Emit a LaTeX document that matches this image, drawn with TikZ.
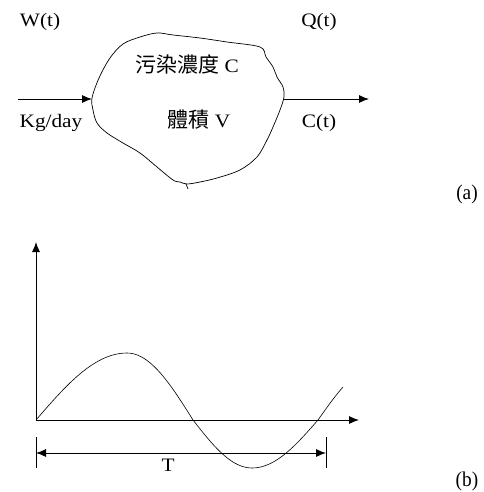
\documentclass[tikz,border=0pt]{standalone}
\usepackage{fontspec}
\setmainfont{Liberation Serif}
\newfontfamily\latfont[FakeStretch=1.12]{Liberation Serif}
\newfontfamily\cjkfont{Noto Sans CJK TC}
\newfontfamily\tagfont[FakeStretch=0.92]{Liberation Serif}
\usetikzlibrary{arrows.meta}
\tikzset{
  lab/.style={font=\latfont\fontsize{19}{21}\selectfont, inner sep=0pt},
  taglab/.style={font=\tagfont\fontsize{21}{23}\selectfont, inner sep=0pt},
  arr/.style={line width=0.9pt, -{Latex[length=10pt,width=8pt]}},
  dimarr/.style={line width=0.9pt, {Latex[length=10pt,width=8pt]}-{Latex[length=10pt,width=8pt]}},
  thin line/.style={line width=0.7pt}
}
\begin{document}
\begin{tikzpicture}[x=1pt,y=-1pt]
\useasboundingbox (0,0) rectangle (483,492);
% ---------- (a)
\node[lab] (wt) at (40,22) {W(t)};
\node[lab] (qt) at (319,22) {Q(t)};
\node[lab] (kg) at (51,123) {Kg/day};
\node[lab] (ct) at (319,123) {C(t)};
\node[lab] (conc) at (187,65) {{\cjkfont\fontsize{21}{23}\selectfont 污染濃度} C};
\node[lab] (vol) at (199,120) {{\cjkfont\fontsize{21}{23}\selectfont 體積} V};
\node[taglab] (la) at (467,194) {(a)};
% blob
\draw[thin line] plot[smooth cycle, tension=0.55] coordinates {
 (92,98) (99,78) (110,58) (123,44) (140,37) (157,33) (173,35) (200,38)
 (227,42) (260,47) (266,57) (273,67) (277,77) (283,87) (284,97) (280,110)
 (273,127) (267,140) (257,157) (240,170) (217,178) (200,182) (187,184)
 (180,182) (173,180) (157,167) (140,153) (123,143) (107,133) (97,123) (93,110)};
\draw[thin line] (186,184) -- (188,189);
\coordinate (inL) at (18,99);
\coordinate (blobL) at (92,99);
\coordinate (blobR) at (284,99);
\coordinate (outR) at (369,99);
\draw[arr] (inL) -- (blobL);
\draw[arr] (blobR) -- (outR);
% ---------- (b)
\coordinate (o) at (36,420);
\coordinate (ytop) at (36,242);
\coordinate (xend) at (359,420);
\draw[arr] (o) -- (ytop);
\draw[arr] (o) -- (xend);
\draw[line width=0.6pt]
 plot[domain=36:127,samples=30] (\x,{420-67*sin(90*(\x-36)/91)})
 -- plot[domain=127:193,samples=25] (\x,{420-67*cos(90*(\x-127)/66)})
 -- plot[domain=193:252,samples=25] (\x,{420+48*sin(90*(\x-193)/59)})
 -- plot[domain=252:318,samples=25] (\x,{420+48*cos(90*(\x-252)/66)})
 -- plot[domain=318:343,samples=12] (\x,{420-55*sin(90*(\x-318)/61)});
\coordinate (t1a) at (36,437);
\coordinate (t1b) at (36,468);
\coordinate (t2a) at (326,437);
\coordinate (t2b) at (326,468);
\draw[thin line] (t1a) -- (t1b);
\draw[thin line] (t2a) -- (t2b);
\coordinate (d1) at (36,453);
\coordinate (d2) at (326,453);
\draw[dimarr] (d1) -- (d2);
\node[lab] (tl) at (168,465) {T};
\node[taglab] (lb) at (467,481) {(b)};
\end{tikzpicture}
\end{document}
